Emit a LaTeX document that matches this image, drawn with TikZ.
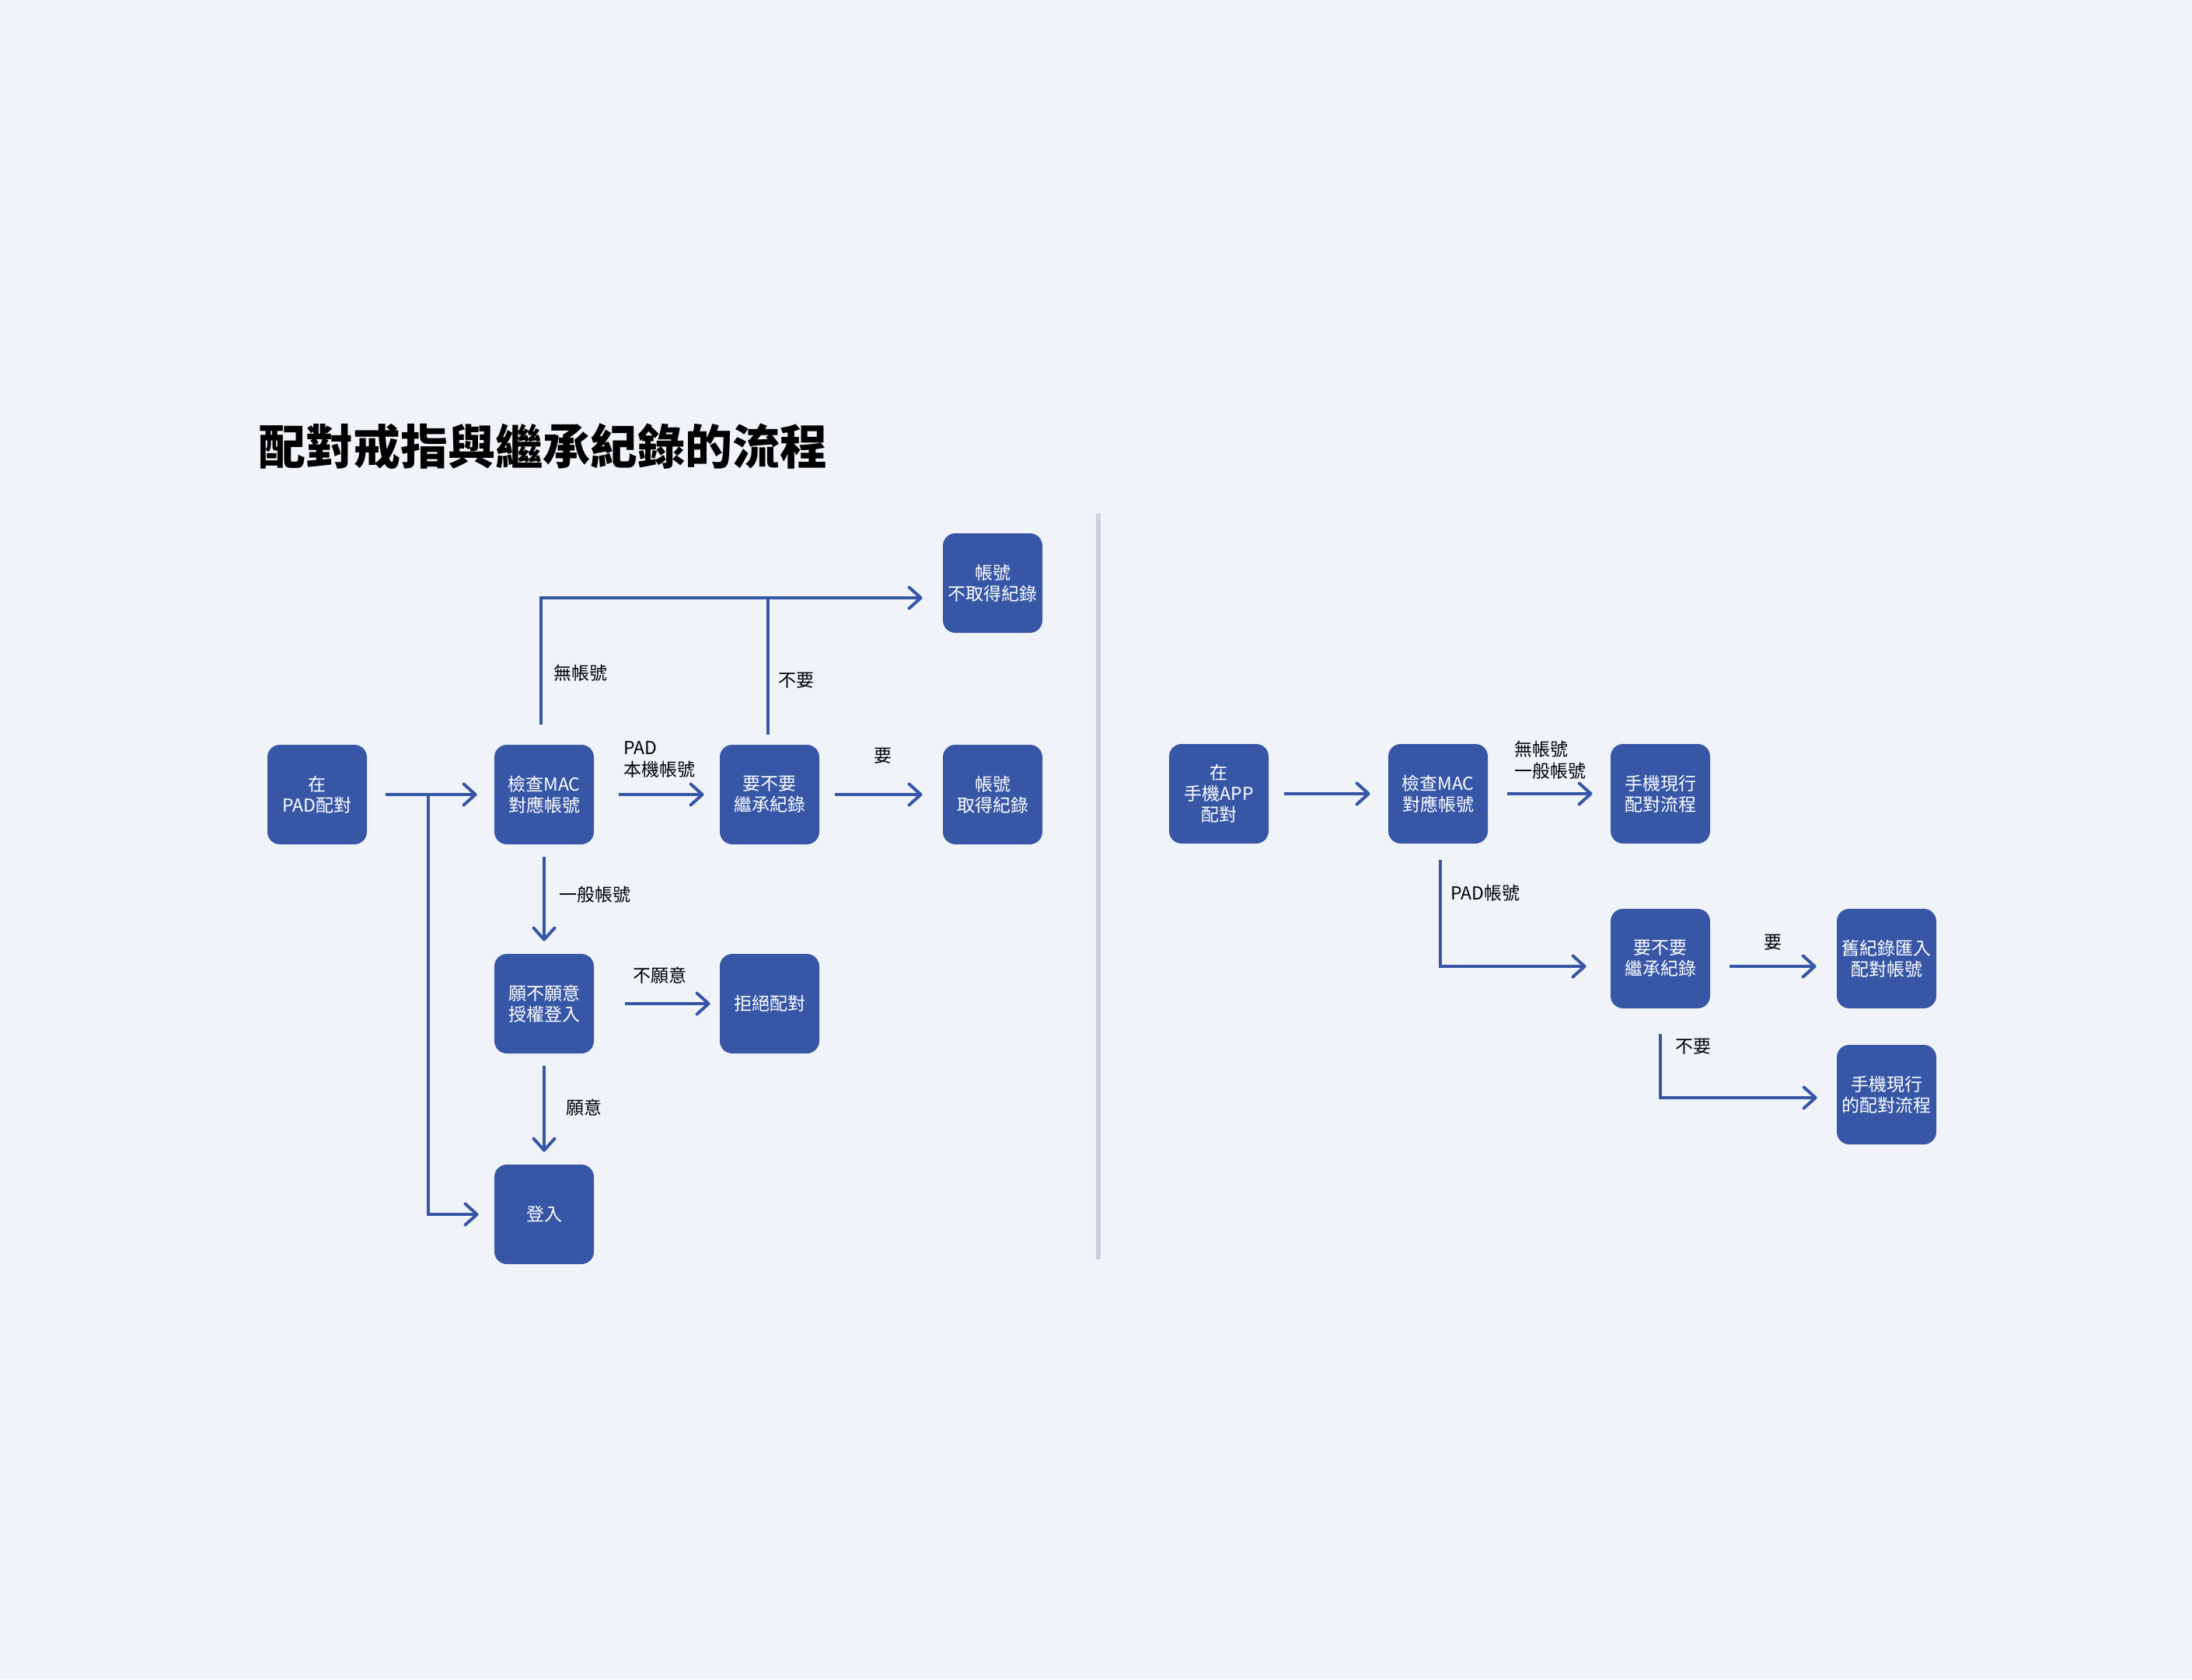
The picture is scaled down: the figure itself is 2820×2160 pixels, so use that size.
\documentclass[tikz,border=0pt]{standalone}
\usepackage{fontspec}
\setmainfont{Noto Sans CJK TC}
\usetikzlibrary{arrows.meta}
\definecolor{pagebg}{HTML}{F0F4F9}
\definecolor{boxblue}{HTML}{3756A6}
\definecolor{divgray}{HTML}{C8D2E1}
\begin{document}
\begin{tikzpicture}[x=0.5pt,y=-0.5pt,
	box/.style={fill=boxblue,rounded corners=8pt,minimum width=64pt,minimum height=64pt,
		inner sep=0pt,text=white,align=center,font=\fontsize{11.5}{13.5}\selectfont},
	lbl/.style={anchor=west,inner sep=0pt,align=left,font=\fontsize{11.5}{14}\selectfont},
	link/.style={draw=boxblue,line width=2pt},
	flow/.style={link,-{Straight Barb[length=7.5pt,width=13.5pt,line width=2pt,round]},
		shorten <=12pt,shorten >=11pt}]
	\fill[pagebg] (0,0) rectangle (2820,2160);
	\node[anchor=west,inner sep=0pt,font=\fontsize{30.5}{34}\selectfont\bfseries] (title) at (332,574) {配對戒指與繼承紀錄的流程};
	\draw[divgray,line width=3pt] (1413,660) coordinate (divtop) -- (1413,1620) coordinate (divbot);
	% PAD side
	\node[box] (padstart) at (408,1022) {在\\PAD配對};
	\node[box] (checkA) at (700,1022) {檢查MAC\\對應帳號};
	\node[box] (inheritA) at (990,1022) {要不要\\繼承紀錄};
	\node[box] (getrec) at (1277,1022) {帳號\\取得紀錄};
	\node[box] (norec) at (1277,750) {帳號\\不取得紀錄};
	\node[box] (consent) at (700,1291) {願不願意\\授權登入};
	\node[box] (reject) at (990,1291) {拒絕配對};
	\node[box] (login) at (700,1562) {登入};
	\coordinate (split) at (551,1022);
	\draw[flow] (padstart) -- (checkA);
	\draw[flow,shorten <=0pt,shorten >=10pt] (split) |- (login);
	\draw[flow,shorten <=16pt,shorten >=10pt] (checkA) -- (inheritA);
	\draw[flow,shorten <=10pt,shorten >=13pt] (inheritA) -- (getrec);
	\draw[flow,shorten <=8pt,shorten >=8pt] (checkA) -- (consent);
	\draw[flow,shorten <=20pt,shorten >=6pt] (consent) -- (reject);
	\draw[flow,shorten <=8pt,shorten >=8pt] (consent) -- (login);
	\draw[flow,shorten <=0pt,shorten >=13pt] ([yshift=13pt,xshift=-2pt]checkA.north) |- ([yshift=-9.5pt]norec.west);
	\draw[link] ([yshift=6.5pt,xshift=-1pt]inheritA.north) -- ([yshift=-9.5pt,xshift=-1pt]inheritA.north |- norec.west);
	\node[lbl] (noacc) at (712,866) {無帳號};
	\node[lbl] (declineA) at (1001,875) {不要};
	\node[lbl] (localacc) at (802,977) {PAD\\本機帳號};
	\node[lbl] (acceptA) at (1124,972) {要};
	\node[lbl] (normalA) at (719,1151) {一般帳號};
	\node[lbl] (refuse) at (814,1255) {不願意};
	\node[lbl] (agree) at (728,1425) {願意};
	% phone side
	\node[box] (appstart) at (1568,1021) {在\\手機APP\\配對};
	\node[box] (checkB) at (1850,1021) {檢查MAC\\對應帳號};
	\node[box] (phoneflow) at (2136,1021) {手機現行\\配對流程};
	\node[box] (inheritB) at (2136,1233) {要不要\\繼承紀錄};
	\node[box] (importrec) at (2427,1233) {舊紀錄匯入\\配對帳號};
	\node[box] (phoneflowB) at (2427,1408) {手機現行\\的配對流程};
	\draw[flow,shorten <=10pt,shorten >=11.5pt] (appstart) -- (checkB);
	\draw[flow,shorten <=12.5pt,shorten >=11.5pt] (checkB) -- (phoneflow);
	\draw[flow,shorten <=10.5pt,shorten >=15.5pt] ([xshift=1.5pt]checkB.south) |- ([yshift=-5pt]inheritB.west);
	\draw[flow,shorten <=12.5pt,shorten >=13pt] ([yshift=-5pt]inheritB.east) -- ([yshift=-5pt]importrec.west);
	\draw[flow,shorten <=16.5pt,shorten >=12.5pt] (inheritB.south) |- ([yshift=-2pt]phoneflowB.west);
	\node[lbl] (noaccB) at (1948,978) {無帳號\\一般帳號};
	\node[lbl] (padacc) at (1866,1149) {PAD帳號};
	\node[lbl] (acceptB) at (2269,1212) {要};
	\node[lbl] (declineB) at (2155,1346) {不要};
\end{tikzpicture}
\end{document}
